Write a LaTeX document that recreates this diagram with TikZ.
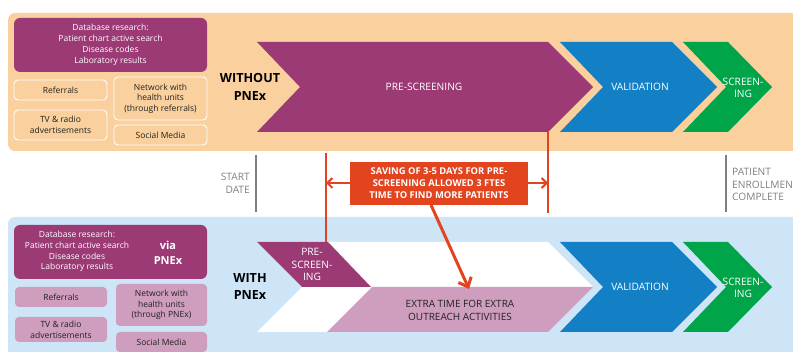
\documentclass[tikz,border=0pt]{standalone}
\usepackage{fontspec}
\setmainfont{Open Sans}
\usetikzlibrary{arrows.meta}

\definecolor{panelorange}{HTML}{F9D09E}
\definecolor{panelblue}{HTML}{CDE5F6}
\definecolor{plum}{HTML}{9C3A75}
\definecolor{procblue}{HTML}{1380C5}
\definecolor{procgreen}{HTML}{00A54A}
\definecolor{pinkbox}{HTML}{CF9DBD}
\definecolor{alertred}{HTML}{E1441F}
\definecolor{markgray}{HTML}{7F7F7F}
\definecolor{darktext}{HTML}{222222}

\tikzset{
  dbbox/.style={fill=plum, rounded corners=6pt, text=white, align=center,
    font=\fontsize{8.5}{11}\selectfont, inner sep=0pt},
  linebox/.style={draw=white, line width=0.9pt, rounded corners=4pt, text=darktext,
    align=center, font=\fontsize{8.5}{10.7}\selectfont, inner sep=0pt},
  pinkrect/.style={fill=pinkbox, rounded corners=4pt, text=darktext,
    align=center, font=\fontsize{8.5}{10.7}\selectfont, inner sep=0pt},
  rowlabel/.style={align=center, font=\bfseries\fontsize{12.6}{17.5}\selectfont, text=black},
  steplabel/.style={align=center, text=white, font=\fontsize{10.2}{12.5}\selectfont},
  milestone/.style={text=markgray, font=\fontsize{10.2}{12.6}\selectfont, inner sep=0pt},
  markline/.style={draw=markgray, line width=2.4pt},
  redline/.style={draw=alertred, line width=2pt},
  redarrow/.style={draw=alertred, line width=2pt, -{Straight Barb[length=5pt,width=10pt]}},
}

\begin{document}
\begin{tikzpicture}[x=1pt,y=-1pt]
\useasboundingbox (0,0) rectangle (793,352);

% background bands
\fill[panelorange, rounded corners=7pt] (8,13) rectangle (810,151);
\fill[panelblue, rounded corners=7pt] (8,217) rectangle (810,370);

% ---------- row without PNEx ----------
\node[dbbox, minimum width=193pt, minimum height=54pt] (dbtop) at (110.5,45)
  {Database research:\\Patient chart active search\\Disease codes\\Laboratory results};
\node[linebox, minimum width=93pt, minimum height=20pt] (reftop) at (60.5,90) {Referrals};
\node[linebox, minimum width=93pt, minimum height=30pt] (tvtop) at (60.5,125) {TV \& radio\\advertisements};
\node[linebox, minimum width=93pt, minimum height=43pt] (nettop) at (160.5,98.5) {Network with\\health units\\(through referrals)};
\node[linebox, minimum width=93pt, minimum height=20pt] (smtop) at (160.5,135) {Social Media};

\node[rowlabel] (without) at (250,87) {WITHOUT\\PNEx};

\fill[plum] (257,42) -- (548,42) -- (593,87) -- (548,132) -- (257,132) -- (300,87) -- cycle;
\fill[procblue] (560,42) -- (672,42) -- (717,87) -- (672,132) -- (560,132) -- (603,87) -- cycle;
\fill[procgreen] (683,42) -- (728,42) -- (772,87) -- (728,132) -- (683,132) -- (726,87) -- cycle;
\node[steplabel] (pretop) at (424,87) {PRE-SCREENING};
\node[steplabel] (valtop) at (640,87) {VALIDATION};
\node[steplabel] (scrtop) at (743,88) {SCREEN-\\ING};

% ---------- row with PNEx ----------
\node[dbbox, minimum width=193pt, minimum height=54pt] (dbbot) at (110.5,252) {};
\node[align=center, text=white, font=\fontsize{8.5}{10.8}\selectfont] (dbtext) at (77,251.5)
  {Database research:\\Patient chart active search\\Disease codes\\Laboratory results};
\node[align=center, text=white, font=\bfseries\fontsize{11}{15}\selectfont] (via) at (168,252.5) {via\\PNEx};
\node[pinkrect, minimum width=92pt, minimum height=20pt] (refbot) at (61,297) {Referrals};
\node[pinkrect, minimum width=92pt, minimum height=25pt] (tvbot) at (61,329.5) {TV \& radio\\advertisements};
\node[pinkrect, minimum width=91pt, minimum height=42pt] (netbot) at (161.5,305) {Network with\\health units\\(through PNEx)};
\node[pinkrect, minimum width=91pt, minimum height=20pt] (smbot) at (161.5,342) {Social Media};

\node[rowlabel] (with) at (250,286.5) {WITH\\PNEx};

\fill[white] (257,242) -- (548,242) -- (593,287) -- (548,332) -- (257,332) -- (302,287) -- cycle;
\fill[plum] (257,242) -- (328,242) -- (371,287) -- (302,287) -- cycle;
\fill[pinkbox] (372,287) -- (593,287) -- (548,332) -- (327,332) -- cycle;
\fill[procblue] (560,242) -- (672,242) -- (717,287) -- (672,332) -- (560,332) -- (603,287) -- cycle;
\fill[procgreen] (683,242) -- (728,242) -- (772,287) -- (728,332) -- (683,332) -- (726,287) -- cycle;
\node[steplabel] (prebot) at (312,264.5) {PRE-\\SCREEN-\\ING};
\node[align=center, text=darktext, font=\fontsize{10}{12.3}\selectfont] (extra) at (460,310.5)
  {EXTRA TIME FOR EXTRA\\OUTREACH ACTIVITIES};
\node[steplabel] (valbot) at (640,287) {VALIDATION};
\node[steplabel] (scrbot) at (743,288) {SCREEN-\\ING};

% ---------- timeline markers ----------
\coordinate (startA) at (256,155);
\coordinate (startB) at (256,212);
\draw[markline] (startA) -- (startB);
\node[milestone, anchor=east, align=right] (startlbl) at (250,183.5) {START\\DATE};

\coordinate (endA) at (726,155);
\coordinate (endB) at (726,212);
\draw[markline] (endA) -- (endB);
\node[milestone, anchor=west, align=left] (endlbl) at (732,184.5) {PATIENT\\ENROLLMENT\\COMPLETE};

% saving span
\coordinate (leftA) at (326,153);
\coordinate (leftB) at (326,242);
\coordinate (rightA) at (548,132);
\coordinate (rightB) at (548,213);
\draw[redline] (leftA) -- (leftB);
\draw[redline] (rightA) -- (rightB);

\node[fill=alertred, text=white, align=center, minimum width=178pt, minimum height=43pt,
  inner sep=0pt, font=\bfseries\fontsize{9.4}{11.9}\selectfont] (saving) at (439,183.5)
  {SAVING OF 3-5 DAYS FOR PRE-\\SCREENING ALLOWED 3 FTES\\TIME TO FIND MORE PATIENTS};

\coordinate (leftHit) at (326,183);
\coordinate (rightHit) at (548,183);
\coordinate (extraHit) at (469,289);
\draw[redarrow] (saving.west |- leftHit) -- (leftHit);
\draw[redarrow] (saving.east |- rightHit) -- (rightHit);
\draw[draw=alertred, line width=3pt, -{Straight Barb[length=8pt,width=14pt]}]
  (431,205) -- (extraHit);
\end{tikzpicture}
\end{document}
